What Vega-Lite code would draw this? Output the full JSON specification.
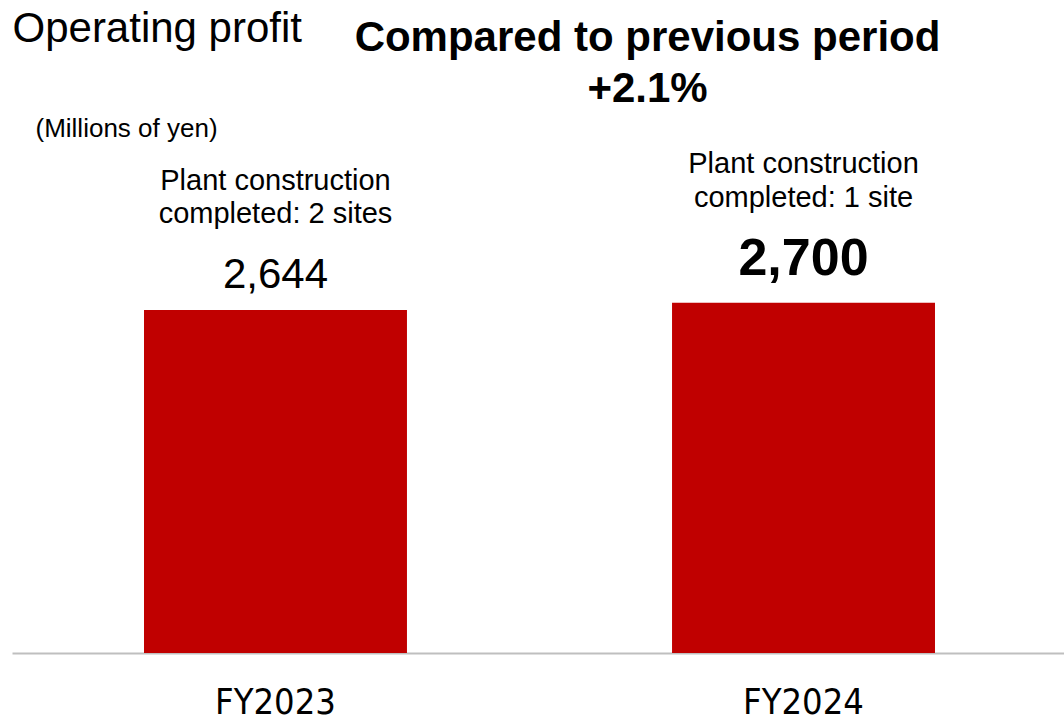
{
  "$schema": "https://vega.github.io/schema/vega-lite/v6.json",
  "autosize": "none",
  "width": 1055,
  "height": 533,
  "padding": {"left": 12, "top": 120, "right": 0, "bottom": 68},
  "background": "white",
  "config": {
    "font": "Liberation Sans",
    "view": {"stroke": null}
  },
  "title": {
    "text": ["Compared to previous period", "+2.1%"],
    "fontSize": 42,
    "fontWeight": "bold",
    "font": "Liberation Sans",
    "color": "black",
    "lineHeight": 51,
    "anchor": "middle",
    "frame": "group",
    "dx": 108,
    "dy": 124,
    "offset": 20
  },
  "data": {
    "values": [
      {"year": "FY2023", "value": 2644, "label": "2,644", "note": "Plant construction\ncompleted: 2 sites"},
      {"year": "FY2024", "value": 2700, "label": "2,700", "note": "Plant construction\ncompleted: 1 site"}
    ]
  },
  "encoding": {
    "x": {
      "field": "year",
      "type": "nominal",
      "sort": null,
      "scale": {"paddingInner": 0.502, "paddingOuter": 0.25},
      "axis": {
        "title": "Operating profit",
        "titleFont": "Liberation Sans",
        "titleFontSize": 42,
        "titleFontWeight": "normal",
        "titleColor": "black",
        "titleAlign": "left",
        "titleAnchor": null,
        "titleBaseline": "alphabetic",
        "titleX": 0,
        "titleY": -612,
        "labelAngle": 0,
        "labelFont": "DejaVu Sans Condensed, Liberation Sans",
        "labelFontSize": 36,
        "labelColor": "black",
        "labelBaseline": "alphabetic",
        "labelPadding": 60,
        "ticks": false,
        "domainColor": "#bfbfbf",
        "domainWidth": 2,
        "grid": false
      }
    },
    "y": {
      "field": "value",
      "type": "quantitative",
      "scale": {"domain": [0, 4109], "nice": false, "zero": true},
      "axis": {
        "title": "(Millions of yen)",
        "titleFont": "Liberation Sans",
        "titleFontSize": 26,
        "titleFontWeight": "normal",
        "titleColor": "black",
        "titleAngle": 0,
        "titleAlign": "left",
        "titleAnchor": null,
        "titleBaseline": "alphabetic",
        "titleX": 23,
        "titleY": 16,
        "labels": false,
        "ticks": false,
        "domain": false,
        "grid": false
      }
    }
  },
  "layer": [
    {"mark": {"type": "bar", "color": "#c00000"}},
    {
      "transform": [{"filter": "datum.year === 'FY2023'"}],
      "mark": {"type": "text", "align": "center", "baseline": "alphabetic", "fontSize": 29, "lineHeight": 33, "lineBreak": "\n", "dy": -120, "color": "black"},
      "encoding": {"text": {"field": "note"}}
    },
    {
      "transform": [{"filter": "datum.year === 'FY2024'"}],
      "mark": {"type": "text", "align": "center", "baseline": "alphabetic", "fontSize": 29, "lineHeight": 34, "lineBreak": "\n", "dy": -130, "color": "black"},
      "encoding": {"text": {"field": "note"}}
    },
    {
      "transform": [{"filter": "datum.year === 'FY2023'"}],
      "mark": {"type": "text", "align": "center", "baseline": "alphabetic", "fontSize": 42, "dy": -22, "color": "black"},
      "encoding": {"text": {"field": "label"}}
    },
    {
      "transform": [{"filter": "datum.year === 'FY2024'"}],
      "mark": {"type": "text", "align": "center", "baseline": "alphabetic", "fontSize": 52, "fontWeight": "bold", "dy": -28, "color": "black"},
      "encoding": {"text": {"field": "label"}}
    }
  ]
}
